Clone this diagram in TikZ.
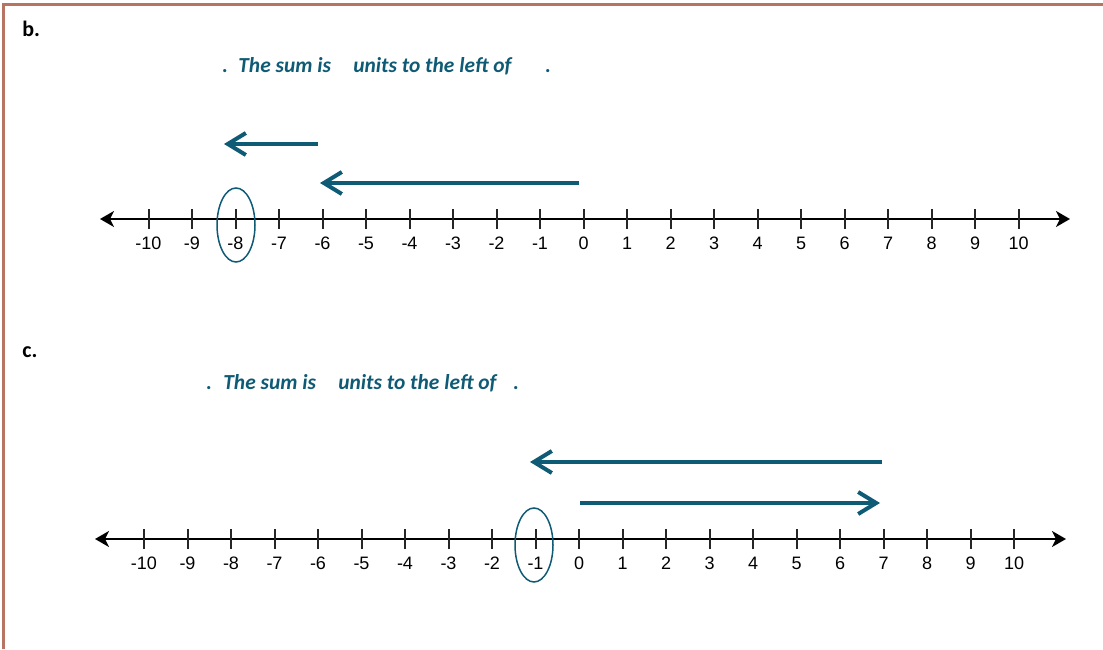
\documentclass[tikz,border=0pt]{standalone}
\usepackage{fontspec}
\setmainfont{Carlito}
\newfontfamily\numfont{Liberation Sans}
\usepackage{tikz}
\usetikzlibrary{shapes.geometric, positioning, arrows.meta}
\definecolor{sumteal}{HTML}{0F5A75}
\definecolor{framebrown}{HTML}{B87462}

\begin{document}
\begin{tikzpicture}[
    x=0.5pt, y=0.5pt,
    axis/.style={line width=1pt, black, {Stealth[length=7pt,width=8pt,inset=2pt]}-{Stealth[length=7pt,width=8pt,inset=2pt]}},
    tickmark/.style={line width=1pt, black!85},
    numlabel/.style={font=\numfont\fontsize{9}{10}\selectfont, inner sep=0pt},
    sumtext/.style={font=\fontsize{10.7}{13}\selectfont\bfseries\itshape, text=sumteal, anchor=base west, inner sep=0pt},
    partlabel/.style={font=\fontsize{11}{13}\selectfont\bfseries, anchor=base west, inner sep=0pt},
    jump/.style={line width=2pt, sumteal, -{Straight Barb[length=9pt,width=11pt,line width=2pt]}},
    answer/.style={draw=sumteal, ellipse, line width=0.75pt, minimum width=19pt, minimum height=37pt, inner sep=0pt}
]

    \useasboundingbox (0,0) rectangle (1103,649);

    % ===============================
    % 1. FRAME
    % ===============================
    \coordinate (ftl) at (3,644);
    \coordinate (ftr) at (1103,644);
    \coordinate (fbl) at (3,0);
    \draw[framebrown, line width=1.5pt] (fbl) -- (ftl) -- (ftr);

    % ===============================
    % 2. PART b
    % ===============================
    \node[partlabel] (lblb) at (22,612) {b.};
    \node[sumtext] (bdot1) at (222,576) {.};
    \node[sumtext] (bsum) at (238,576) {The sum is};
    \node[sumtext] (bunits) at (353,576) {units to the left of};
    \node[sumtext] (bdot2) at (545,576) {.};

    % number line b
    \coordinate (bstart) at (100,430);
    \coordinate (bend) at (1070,430);
    \draw[axis] (bstart) -- (bend);
    \foreach \i in {-10,...,10} {
        \coordinate (b\i) at ({583.5+43.5*\i},430);
        \draw[tickmark] ([yshift=-5pt]b\i) -- ([yshift=5pt]b\i);
        \node[numlabel] (nb\i) at ([yshift=-12pt]b\i) {\i};
    }

    % jumps b
    \coordinate (bj1s) at (318,505);
    \coordinate (bj1e) at (224,505);
    \coordinate (bj2s) at (579,466);
    \coordinate (bj2e) at (320,466);
    \draw[jump] (bj1s) -- (bj1e);
    \draw[jump] (bj2s) -- (bj2e);

    % answer b
    \node[answer] (ansb) at (236,424) {};

    % ===============================
    % 3. PART c
    % ===============================
    \node[partlabel] (lblc) at (22,292) {c.};
    \node[sumtext] (cdot1) at (206,260) {.};
    \node[sumtext] (csum) at (223,260) {The sum is};
    \node[sumtext] (cunits) at (338,260) {units to the left of};
    \node[sumtext] (cdot2) at (513,260) {.};

    % number line c
    \coordinate (cstart) at (95,110);
    \coordinate (cend) at (1066,110);
    \draw[axis] (cstart) -- (cend);
    \foreach \i in {-10,...,10} {
        \coordinate (c\i) at ({579+43.5*\i},110);
        \draw[tickmark] ([yshift=-5pt]c\i) -- ([yshift=5pt]c\i);
        \node[numlabel] (nc\i) at ([yshift=-12pt]c\i) {\i};
    }

    % jumps c
    \coordinate (cj1s) at (882,187);
    \coordinate (cj1e) at (530,187);
    \coordinate (cj2s) at (580,146);
    \coordinate (cj2e) at (880,146);
    \draw[jump] (cj1s) -- (cj1e);
    \draw[jump] (cj2s) -- (cj2e);

    % answer c
    \node[answer] (ansc) at (534,104) {};

\end{tikzpicture}
\end{document}
